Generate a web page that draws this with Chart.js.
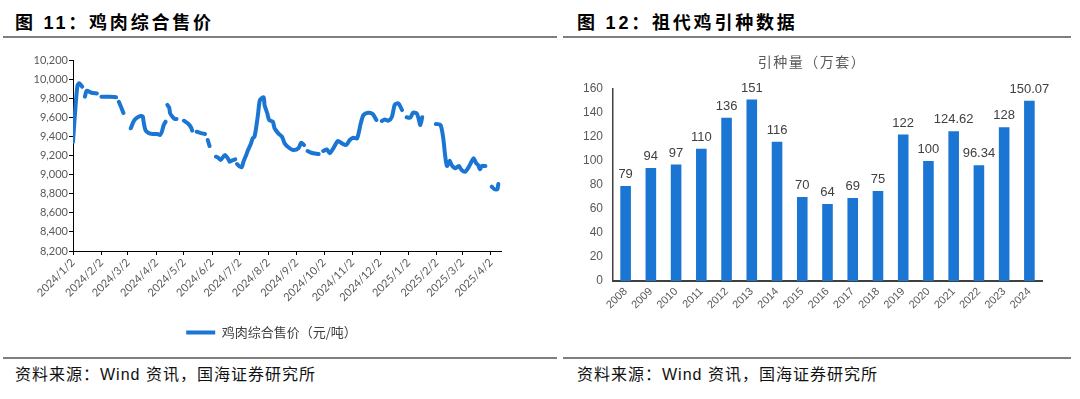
<!DOCTYPE html>
<html lang="zh-CN">
<head>
<meta charset="utf-8">
<title>鸡肉综合售价 / 祖代鸡引种数据</title>
<script src="https://cdn.jsdelivr.net/npm/chart.js@4.4.1/dist/chart.umd.min.js"></script>
<style>
    body { margin: 0; background: #fff; }
    #pagina { position: relative; width: 1080px; height: 399px; overflow: hidden; background: #fff; }
    .titulo { position: absolute; top: 11px; line-height: 24px; font-size: 18px; font-weight: bold; letter-spacing: 2.8px;
        font-family: "Liberation Sans", "Noto Sans CJK SC", sans-serif; color: #000; white-space: nowrap; }
    .regua { position: absolute; height: 2px; background: #7f7f7f; }
    .fonte { position: absolute; top: 364px; line-height: 22px; font-size: 16px; letter-spacing: 1px;
        font-family: "Liberation Sans", "Noto Sans CJK SC", sans-serif; color: #111; white-space: nowrap; }
    canvas { position: absolute; }
</style>
</head>
<body>
<div id="pagina">
    <div class="titulo" style="left:15px;">图 11：鸡肉综合售价</div>
    <div class="titulo" style="left:577px;">图 12：祖代鸡引种数据</div>
    <div class="regua" style="left:3px; width:554px; top:36px;"></div>
    <div class="regua" style="left:563px; width:508px; top:36px;"></div>

    <canvas id="chartPreco" width="560" height="310" style="left:0; top:40px;"></canvas>
    <canvas id="chartIntroducao" width="520" height="315" style="left:560px; top:40px;"></canvas>

    <div class="regua" style="left:3px; width:554px; top:357px;"></div>
    <div class="regua" style="left:563px; width:508px; top:357px;"></div>
    <div class="fonte" style="left:15px;">资料来源：Wind 资讯，国海证券研究所</div>
    <div class="fonte" style="left:577px;">资料来源：Wind 资讯，国海证券研究所</div>
</div>

<script>
// ======================== DADOS ========================
// dias contados a partir de 2024/1/2; null = falta de dado (quebra na linha)
const precoDias = [
    0, 3, 5, 7, 10, 12,
    13, 15, 20, 26, 28,
    31, 40, 47, 49,
    50, 53, 55, 58,
    63, 66, 69, 73, 76, 77, 79, 82, 87, 92, 95, 97, 99, 101, 102,
    103, 105, 106, 109, 111, 113, 115,
    121, 126, 129, 130, 132,
    135, 138, 144, 145,
    147, 149, 152,
    156, 158, 161, 164, 166, 169, 171, 174, 177, 178,
    179, 181, 184, 186, 189, 191, 194, 196, 198, 200, 202, 204, 208, 209, 212, 214, 218, 220, 224, 228, 231, 235, 240, 246, 249, 252, 254,
    256, 260, 268, 271,
    273, 277, 280, 284, 289, 293, 298, 302, 306, 310, 314, 317, 322, 327, 331, 334,
    337, 340, 344, 348, 351, 355, 359, 362,
    364, 368, 371, 375, 377, 379, 381, 384,
    396, 401, 404, 406, 408, 411, 413, 417, 421, 424, 428, 433, 437, 440, 442, 444, 446, 450, 455,
    457, 460, 463, 464,
];
const precoValores = [
    9344, 9746, 9938, 9956, 9920, null,
    9816, 9878, 9857, 9850, null,
    9815, 9815, 9810, null,
    9763, 9694, 9645, null,
    9485, 9554, 9589, 9613, 9610, 9554, 9467, 9439, 9425, 9425, 9414, 9450, 9519, 9554, null,
    9729, 9700, 9641, 9600, 9582, 9582, null,
    9564, 9530, 9490, 9460, null,
    9449, 9440, 9425, null,
    9362, 9299, null,
    9187, 9180, 9153, 9187, 9205, 9170, 9135, 9150, 9160, null,
    9111, 9090, 9076, 9135, 9205, 9257, 9320, 9380, 9397, 9502, 9641, 9781, 9809, 9729, 9641, 9572, 9554, 9484, 9432, 9397, 9327, 9286, 9257, 9275, 9334, 9310, null,
    9247, 9229, 9215, null,
    9247, 9264, 9223, 9275, 9352, 9330, 9310, 9362, 9386, 9380, 9537, 9624, 9648, 9635, 9572, null,
    9561, 9578, 9564, 9606, 9729, 9746, 9676, null,
    9600, 9596, 9648, 9641, 9589, 9519, 9600, null,
    9530, 9520, 9380, 9205, 9090, 9146, 9101, 9066, 9090, 9048, 9030, 9100, 9170, 9118, 9101, 9055, 9090, 9090, null,
    8873, 8846, 8846, 8901,
];
const mesesDias = [0, 31, 60, 91, 121, 152, 182, 213, 244, 274, 305, 335, 366, 397, 425, 456];
const mesesRotulos = [
    '2024/1/2', '2024/2/2', '2024/3/2', '2024/4/2', '2024/5/2', '2024/6/2', '2024/7/2', '2024/8/2',
    '2024/9/2', '2024/10/2', '2024/11/2', '2024/12/2', '2025/1/2', '2025/2/2', '2025/3/2', '2025/4/2',
];

const anos = ['2008', '2009', '2010', '2011', '2012', '2013', '2014', '2015', '2016',
    '2017', '2018', '2019', '2020', '2021', '2022', '2023', '2024'];
const introducao = [79, 94, 97, 110, 136, 151, 116, 70, 64, 69, 75, 122, 100, 124.62, 96.34, 128, 150.07];

const AZUL = '#1a76d2';
const CINZA = '#595959';

// ======================== GRÁFICO 11: PREÇO ========================
// empurra a legenda um pouco para a direita, como no original
const legendaDeslocada = {
    id: 'legendaDeslocada',
    afterLayout(chart) {
        chart.legend.left += 21;
        chart.legend.right += 21;
    },
};

new Chart(document.getElementById('chartPreco'), {
    type: 'line',
    data: {
        datasets: [
            {
                label: '鸡肉综合售价（元/吨）',
                data: precoDias.map((d, i) => ({ x: d, y: precoValores[i] })),
                borderColor: AZUL,
                backgroundColor: AZUL,
                borderWidth: 4,
                pointRadius: 0,
                tension: 0.25,
                spanGaps: false,
                borderCapStyle: 'round',
                borderJoinStyle: 'round',
            },
        ],
    },
    plugins: [legendaDeslocada],
    options: {
        responsive: false,
        animation: false,
        layout: { padding: { top: 20, left: 0, right: 59, bottom: 1 } },
        plugins: {
            tooltip: { enabled: false },
            legend: {
                position: 'bottom',
                labels: {
                    usePointStyle: true,
                    pointStyle: 'line',
                    pointStyleWidth: 29,
                    boxHeight: 13,
                    color: '#404040',
                    font: { family: '"Noto Sans CJK SC", sans-serif', size: 13 },
                },
            },
        },
        scales: {
            x: {
                type: 'linear',
                min: 0,
                max: 467,
                afterBuildTicks: (s) => { s.ticks = mesesDias.map((v) => ({ value: v })); },
                afterFit: (s) => { s.height = 65; },
                grid: { drawOnChartArea: false, tickLength: 4, color: '#000' },
                border: { color: '#000', width: 1 },
                ticks: {
                    autoSkip: false,
                    minRotation: 45,
                    maxRotation: 45,
                    padding: 1,
                    color: CINZA,
                    font: { family: 'Lato, sans-serif', size: 11 },
                    callback: (v, i) => mesesRotulos[i],
                },
            },
            y: {
                min: 8200,
                max: 10200,
                afterFit: (s) => { s.width = 73; },
                grid: { drawOnChartArea: false, tickLength: 4, color: '#000' },
                border: { color: '#000', width: 1 },
                ticks: {
                    stepSize: 200,
                    padding: 1,
                    color: CINZA,
                    font: { family: 'Lato, sans-serif', size: 11 },
                    callback: (v) => v.toLocaleString('en-US'),
                },
            },
        },
    },
});

// ======================== GRÁFICO 12: INTRODUÇÃO ========================
const rotulosBarras = {
    id: 'rotulosBarras',
    afterDatasetsDraw(chart) {
        const ctx = chart.ctx;
        ctx.save();
        ctx.font = '13px "Liberation Sans", sans-serif';
        ctx.fillStyle = '#404040';
        ctx.textAlign = 'center';
        ctx.textBaseline = 'bottom';
        chart.getDatasetMeta(0).data.forEach((bar, i) => {
            ctx.fillText(String(introducao[i]), bar.x, bar.y - 5);
        });
        ctx.restore();
    },
};

// título do gráfico com espaçamento entre letras
const tituloEspacado = {
    id: 'tituloEspacado',
    beforeDraw(chart) {
        const tb = chart.titleBlock;
        if (!tb || tb._espacado) return;
        const desenhar = tb.draw.bind(tb);
        tb.draw = (area) => {
            chart.ctx.letterSpacing = '1.5px';
            desenhar(area);
            chart.ctx.letterSpacing = '0px';
        };
        tb._espacado = true;
    },
};

new Chart(document.getElementById('chartIntroducao'), {
    type: 'bar',
    data: {
        labels: anos,
        datasets: [
            {
                label: '引种量（万套）',
                data: introducao,
                backgroundColor: AZUL,
                categoryPercentage: 1,
                barPercentage: 0.42,
            },
        ],
    },
    plugins: [rotulosBarras, tituloEspacado],
    options: {
        responsive: false,
        animation: false,
        layout: { padding: { top: 0, left: 22, right: 38, bottom: 0 } },
        plugins: {
            tooltip: { enabled: false },
            legend: { display: false },
            title: {
                display: true,
                text: '引种量（万套）',
                color: CINZA,
                font: { family: '"Noto Sans CJK SC", sans-serif', size: 14, weight: 'normal' },
                padding: { top: 13, bottom: 19 },
            },
        },
        scales: {
            x: {
                afterFit: (s) => { s.height = 74; },
                grid: { display: false, drawTicks: false },
                border: { color: '#404040', width: 2 },
                ticks: {
                    minRotation: 45,
                    maxRotation: 45,
                    padding: 4,
                    color: CINZA,
                    font: { family: '"Liberation Sans", sans-serif', size: 11 },
                },
            },
            y: {
                min: 0,
                max: 160,
                afterFit: (s) => { s.width = 31; },
                grid: { display: false, drawTicks: false },
                border: { color: '#404040', width: 1.5 },
                ticks: {
                    stepSize: 20,
                    padding: 10,
                    color: CINZA,
                    font: { family: '"Liberation Sans", sans-serif', size: 12 },
                },
            },
        },
    },
});
</script>
</body>
</html>
